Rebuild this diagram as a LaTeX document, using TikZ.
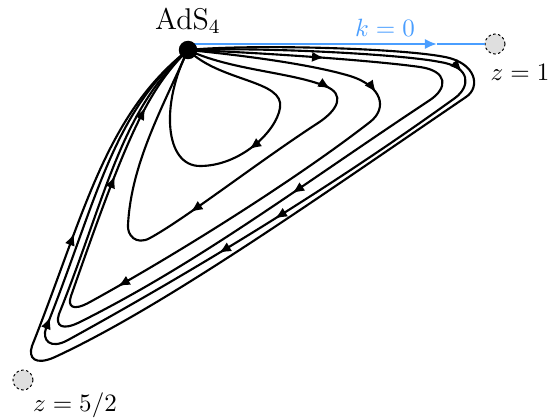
\documentclass[tikz,border=0pt]{standalone}
\usetikzlibrary{arrows.meta,calc}
\definecolor{kblue}{RGB}{74,158,255}
\newcommand{\flowtip}[2]{\draw[tip] ($(#2)!5pt!(#1)$) -- (#2);}
\begin{document}
\begin{tikzpicture}[x=0.4pt,y=-0.4pt,
  flow/.style={line width=0.85pt, black},
  kline/.style={line width=0.85pt, kblue},
  tip/.style={line width=0.85pt, black, -{Latex[length=4.9pt,width=4.1pt]}},
  fixpt/.style={circle, draw=black, fill=gray!25, line width=0.4pt, dash pattern=on 1pt off 1pt, minimum size=8pt, inner sep=0pt},
  adsdot/.style={circle, fill=black, minimum size=7.4pt, inner sep=0pt}]
\useasboundingbox (0,0) rectangle (550,419);
\coordinate (ads) at (188,50);
\node[fixpt] (z1) at (495,44) {};
\node[fixpt] (z52) at (23,380) {};
% loop 1
\draw[flow] (ads) .. controls (220,82) and (285,80) .. (280,108)
  .. controls (276,132) and (240,166) .. (200,166) coordinate[pos=0.53] (a1s) coordinate[pos=0.55] (a1e)
  .. controls (165,166) and (160,105) .. (ads);
\flowtip{a1s}{a1e}
% loop 2
\draw[flow] (ads) .. controls (230,70) and (290,72) .. (325,86)
  .. controls (346,94) and (338,110) .. (318,123) coordinate[pos=0.08] (a2s) coordinate[pos=0.1] (a2e)
  .. controls (258,162) and (185,219) .. (150,238) coordinate[pos=0.68] (b2s) coordinate[pos=0.7] (b2e)
  .. controls (136,245.7) and (127,235) .. (128,225)
  .. controls (131,165) and (161,110) .. (ads);
\flowtip{a2s}{a2e}
\flowtip{b2s}{b2e}
% loop 3
\draw[flow] (ads) .. controls (240,55) and (310,64) .. (350,76)
  .. controls (382,86) and (388,108) .. (370,122) coordinate[pos=0.38] (a3s) coordinate[pos=0.4] (a3e)
  .. controls (298,178) and (180,252.5) .. (90,302) coordinate[pos=0.88] (b3s) coordinate[pos=0.9] (b3e)
  .. controls (72,312) and (67.5,306) .. (71,296)
  .. controls (123.5,146) and (145,92) .. (ads) coordinate[pos=0.31] (c3s) coordinate[pos=0.33] (c3e)
     coordinate[pos=0.60] (d3s) coordinate[pos=0.62] (d3e);
\flowtip{a3s}{a3e}
\flowtip{b3s}{b3e}
\flowtip{c3s}{c3e}
\flowtip{d3s}{d3e}
% loop 4
\draw[flow] (ads) .. controls (250,52) and (370,60) .. (420,67) coordinate[pos=0.54] (a4s) coordinate[pos=0.56] (a4e)
  .. controls (448,71) and (448,88) .. (430,100)
  .. controls (300,186) and (200,262) .. (80,322) coordinate[pos=0.36] (b4s) coordinate[pos=0.38] (b4e)
  .. controls (62,331) and (55,326) .. (59,314)
  .. controls (107,194) and (120,112) .. (ads);
\flowtip{a4s}{a4e}
\flowtip{b4s}{b4e}
% loop 5
\draw[flow] (ads) .. controls (260,47) and (400,54) .. (440,62)
  .. controls (472,67) and (470,87) .. (455,98) coordinate[pos=0.33] (a5s) coordinate[pos=0.35] (a5e)
  .. controls (315,199) and (168,285) .. (68,340) coordinate[pos=0.41] (b5s) coordinate[pos=0.43] (b5e)
     coordinate[pos=0.55] (c5s) coordinate[pos=0.57] (c5e)
  .. controls (50,350) and (41.8,340) .. (46,328)
  .. controls (96,203) and (112,112) .. (ads) coordinate[pos=0.01] (d5s) coordinate[pos=0.03] (d5e);
\flowtip{a5s}{a5e}
\flowtip{b5s}{b5e}
\flowtip{c5s}{c5e}
\flowtip{d5s}{d5e}
% loop 6
\draw[flow] (ads) .. controls (250,44) and (400,48) .. (445,57)
  .. controls (476,63) and (481,87) .. (466,97)
  .. controls (316,199) and (165,306) .. (55,357)
  .. controls (35,366) and (28,358) .. (32,346)
  .. controls (84,215) and (105,115) .. (ads) coordinate[pos=0.29] (a6s) coordinate[pos=0.31] (a6e);
\flowtip{a6s}{a6e}
% k = 0 line
\coordinate (karrow) at (437,44);
\draw[kline, -{Latex[length=4.9pt,width=4.1pt]}] (ads |- z1) -- (karrow);
\draw[kline] (karrow) -- (z1.west);
\node[adsdot] (adsnode) at (ads) {};
\node[font=\large] (adslabel) at (188,21) {AdS$_4$};
\node[text=kblue] (klabel) at (385,28) {$k=0$};
\node (z1label) at (520,72) {$z=1$};
\node (z52label) at (75,405) {$z=5/2$};
\end{tikzpicture}
\end{document}
